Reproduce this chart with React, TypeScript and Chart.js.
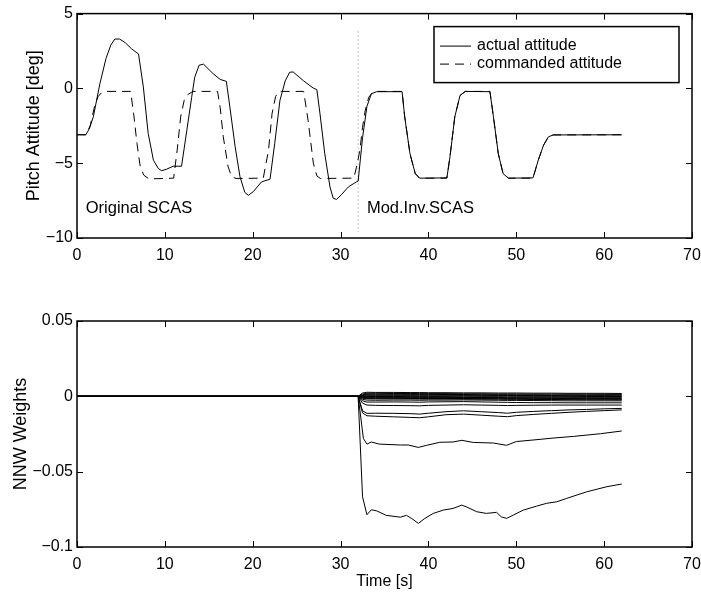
import React, { useEffect, useRef } from 'react';
import { Chart, registerables } from 'chart.js';

Chart.register(...registerables);

const FONT = "'Liberation Sans', Arial, Helvetica, sans-serif";

// ---------- axis settings ----------
const timeMin = 0;
const timeMax = 70;
const timeStep = 10;
const pitchMin = -10;
const pitchMax = 5;
const pitchStep = 5;
const weightMin = -0.1;
const weightMax = 0.05;
const weightStep = 0.05;

// ---------- top plot: pitch attitude ----------
const actualTime = [0, 1.0, 1.4, 1.86, 2.6, 3.3, 3.85, 4.3, 4.85, 5.5, 6.2, 7.0, 7.55, 8.1, 8.7, 9.26, 9.64, 10.2, 10.96, 11.9, 12.5, 13.05, 13.4, 13.9, 14.4, 15.5, 16.3, 17.0, 17.4, 18.0, 18.55, 19.1, 19.5, 20.07, 21.0, 21.97, 22.5, 23.1, 23.7, 24.2, 24.6, 25.8, 26.9, 27.3, 27.66, 28.2, 28.8, 29.17, 29.55, 30.1, 30.9, 31.8, 32.0, 32.5, 33.0, 33.5, 34.1, 37.0, 37.3, 37.9, 38.5, 39.0, 42.1, 42.45, 43.0, 43.6, 44.2, 47.0, 47.4, 47.95, 48.5, 49.1, 51.9, 52.5, 53.1, 53.65, 54.2, 62.0];
const actualPitch = [-3.1, -3.1, -2.7, -1.9, 0.3, 2.0, 2.9, 3.3, 3.3, 3.05, 2.65, 2.3, 0.1, -3.0, -4.8, -5.36, -5.5, -5.4, -5.2, -5.2, -2.8, -0.6, 0.75, 1.55, 1.62, 0.98, 0.6, 0.47, -1.24, -3.9, -5.9, -6.95, -7.15, -6.9, -6.25, -6.07, -3.7, -0.8, 0.5, 1.08, 1.1, 0.5, 0.02, -0.08, -1.7, -4.36, -6.6, -7.35, -7.42, -7.1, -6.58, -6.25, -6.2, -3.3, -1.2, -0.36, -0.22, -0.22, -1.9, -4.36, -5.7, -6.0, -5.98, -4.58, -1.9, -0.47, -0.2, -0.22, -1.9, -4.36, -5.7, -6.0, -5.98, -4.8, -3.8, -3.24, -3.11, -3.1];

const commandTime = [0, 1.0, 1.5, 2.0, 2.4, 2.8, 3.3, 6.1, 6.45, 6.83, 7.2, 7.6, 8.2, 11.0, 11.4, 11.8, 12.2, 12.5, 13.2, 16.0, 16.3, 16.65, 17.2, 17.6, 18.1, 21.2, 21.8, 22.2, 22.6, 22.9, 23.3, 25.8, 26.3, 26.9, 27.3, 27.7, 31.5, 31.8, 32.2, 32.5, 32.8, 33.2, 33.6, 34.1, 37.0, 37.3, 37.9, 38.5, 39.0, 42.1, 42.45, 43.0, 43.6, 44.2, 47.0, 47.4, 47.95, 48.5, 49.1, 51.9, 52.5, 53.1, 53.65, 54.2, 62.0];
const commandPitch = [-3.1, -3.1, -2.5, -1.2, -0.55, -0.28, -0.2, -0.2, -1.7, -3.7, -5.24, -5.8, -6.05, -6.0, -4.13, -1.9, -0.8, -0.45, -0.2, -0.2, -1.3, -3.24, -5.24, -5.9, -6.02, -6.0, -4.13, -1.69, -0.55, -0.24, -0.2, -0.2, -2.13, -5.0, -5.85, -6.02, -6.0, -5.3, -4.13, -2.6, -1.5, -0.6, -0.3, -0.2, -0.2, -1.9, -4.36, -5.7, -6.0, -6.0, -4.58, -1.9, -0.47, -0.2, -0.2, -1.9, -4.36, -5.7, -6.0, -6.0, -4.8, -3.8, -3.24, -3.11, -3.1];

const switchTime = [32, 32];
const switchPitch = [3.8, -9.6];

const legendLabels = ['actual attitude', 'commanded attitude'];
const annotationTexts = ['Original SCAS', 'Mod.Inv.SCAS'];
const annotationTime = [1.0, 33.0];
const annotationPitch = [-8, -8];

// ---------- bottom plot: NNW weights ----------
const weightTimeA = [0, 32, 32.5, 33, 33.5, 34.1, 35.2, 36.8, 37.5, 38.1, 38.85, 39.6, 40.55, 41.7, 42.8, 43.8, 44.3, 45.5, 46.6, 47.75, 48.3, 48.9, 49.66, 50.8, 52.3, 53.45, 54.6, 55.7, 58.0, 60.3, 62];
const weightA = [0, 0, -0.0667, -0.0786, -0.0753, -0.076, -0.079, -0.0802, -0.079, -0.0811, -0.0843, -0.081, -0.0777, -0.0755, -0.0744, -0.0722, -0.0733, -0.0766, -0.0777, -0.077, -0.08, -0.081, -0.0788, -0.0755, -0.0729, -0.071, -0.07, -0.0678, -0.0634, -0.06, -0.0582];

const weightTimeB = [0, 32, 32.6, 33, 33.5, 34.4, 36.8, 37.7, 38.85, 39.8, 41.3, 42.8, 43.8, 45.1, 47.4, 48.9, 50.0, 51.9, 54.2, 56.5, 59.6, 62];
const weightB = [0, 0, -0.028, -0.0317, -0.0303, -0.0317, -0.0323, -0.0323, -0.0339, -0.0325, -0.0305, -0.0303, -0.0292, -0.0306, -0.031, -0.0325, -0.03, -0.029, -0.0277, -0.0266, -0.0248, -0.023];

const weightTime = [0, 32, 32.5, 33, 34, 36, 38, 39, 40, 42, 44, 46, 48, 49, 50, 52, 54, 56, 58, 60, 62];
const weightC = [0, 0, -0.0096, -0.0113, -0.0112, -0.0113, -0.0115, -0.0118, -0.0112, -0.0102, -0.0096, -0.0102, -0.0108, -0.0112, -0.0106, -0.0100, -0.0095, -0.0090, -0.0087, -0.0083, -0.0080];
const weightD = [0, 0, -0.011, -0.0129, -0.0132, -0.0136, -0.014, -0.0142, -0.0136, -0.0122, -0.0118, -0.0125, -0.0132, -0.0135, -0.0128, -0.012, -0.0113, -0.0106, -0.0100, -0.0095, -0.0090];
const weightE = [0, 0, -0.0045, -0.0058, -0.006, -0.0061, -0.0062, -0.0063, -0.006, -0.0058, -0.0056, -0.0058, -0.006, -0.0061, -0.006, -0.0059, -0.0058, -0.0058, -0.0058, -0.0058, -0.0058];
const weightF = [0, 0, -0.003, -0.0038, -0.0038, -0.0037, -0.0038, -0.0039, -0.0037, -0.0036, -0.0035, -0.0037, -0.0039, -0.004, -0.0041, -0.0042, -0.0042, -0.0043, -0.0043, -0.0043, -0.0043];
const weightG = [0, 0, -0.002, -0.0025, -0.0026, -0.0025, -0.0025, -0.0026, -0.0025, -0.0025, -0.0024, -0.0025, -0.0026, -0.0027, -0.0027, -0.0028, -0.0029, -0.003, -0.003, -0.003, -0.003];
const weightH = [0, 0, 0.0022, 0.0027, 0.0026, 0.0026, 0.0025, 0.0025, 0.0024, 0.0024, 0.0023, 0.0023, 0.0022, 0.0022, 0.0022, 0.0021, 0.0021, 0.002, 0.002, 0.002, 0.0019];
const weightI = [0, 0, 0.0015, 0.002, 0.002, 0.0019, 0.0019, 0.0018, 0.0018, 0.0018, 0.0017, 0.0017, 0.0016, 0.0016, 0.0016, 0.0015, 0.0015, 0.0014, 0.0014, 0.0013, 0.0013];
const weightJ = [0, 0, 0.001, 0.0014, 0.0014, 0.0014, 0.0013, 0.0013, 0.0013, 0.0012, 0.0012, 0.0011, 0.0011, 0.0011, 0.001, 0.001, 0.0009, 0.0009, 0.0008, 0.0008, 0.0008];
const weightK = [0, 0, 0.0006, 0.0009, 0.0009, 0.0009, 0.0008, 0.0008, 0.0008, 0.0008, 0.0007, 0.0007, 0.0006, 0.0006, 0.0006, 0.0005, 0.0005, 0.0004, 0.0004, 0.0004, 0.0003];
const weightL = [0, 0, 0.0003, 0.0004, 0.0004, 0.0004, 0.0004, 0.0003, 0.0003, 0.0003, 0.0003, 0.0002, 0.0002, 0.0002, 0.0001, 0.0001, 0.0, 0.0, -0.0001, -0.0001, -0.0001];
const weightM = [0, 0, -0.0001, -0.0001, -0.0001, -0.0001, -0.0002, -0.0002, -0.0002, -0.0002, -0.0003, -0.0003, -0.0003, -0.0004, -0.0004, -0.0004, -0.0005, -0.0005, -0.0005, -0.0006, -0.0006];
const weightN = [0, 0, -0.0004, -0.0006, -0.0006, -0.0006, -0.0007, -0.0007, -0.0007, -0.0007, -0.0008, -0.0008, -0.0008, -0.0009, -0.0009, -0.0009, -0.001, -0.001, -0.001, -0.0011, -0.0011];
const weightO = [0, 0, -0.0007, -0.001, -0.001, -0.001, -0.0011, -0.0011, -0.0011, -0.0011, -0.0012, -0.0012, -0.0012, -0.0013, -0.0013, -0.0013, -0.0014, -0.0014, -0.0015, -0.0015, -0.0015];
const weightP = [0, 0, -0.001, -0.0013, -0.0013, -0.0013, -0.0014, -0.0014, -0.0014, -0.0014, -0.0015, -0.0015, -0.0016, -0.0016, -0.0016, -0.0017, -0.0018, -0.0018, -0.0019, -0.0019, -0.002];
const weightQ = [0, 0, -0.0012, -0.0016, -0.0017, -0.0017, -0.0017, -0.0018, -0.0018, -0.0018, -0.0018, -0.0019, -0.0019, -0.002, -0.002, -0.0021, -0.0021, -0.0022, -0.0023, -0.0023, -0.0024];

const smallWeights = [weightC, weightD, weightE, weightF, weightG, weightH, weightI, weightJ, weightK, weightL, weightM, weightN, weightO, weightP, weightQ];

// ---------- helpers ----------
const toPoints = (xs: number[], ys: number[]) => xs.map((x, i) => ({ x, y: ys[i] }));

const fmt = (v: number) => {
  const r = Math.round(v * 1000) / 1000;
  const s = r === 0 ? '0' : String(r);
  return s.replace('-', '\u2212');
};

const framePlugin = {
  id: 'matlabFrame',
  afterDatasetsDraw(chart: any) {
    const { ctx, chartArea: a, scales } = chart;
    const L = 6;
    ctx.save();
    ctx.strokeStyle = '#000';
    ctx.lineWidth = 1;
    ctx.beginPath();
    scales.x.ticks.forEach((t: any) => {
      const p = Math.round(scales.x.getPixelForValue(t.value)) + 0.5;
      ctx.moveTo(p, a.bottom);
      ctx.lineTo(p, a.bottom - L);
      ctx.moveTo(p, a.top);
      ctx.lineTo(p, a.top + L);
    });
    scales.y.ticks.forEach((t: any) => {
      const p = Math.round(scales.y.getPixelForValue(t.value)) + 0.5;
      ctx.moveTo(a.left, p);
      ctx.lineTo(a.left + L, p);
      ctx.moveTo(a.right, p);
      ctx.lineTo(a.right - L, p);
    });
    ctx.stroke();
    ctx.lineWidth = 1.5;
    ctx.strokeRect(a.left, a.top, a.right - a.left, a.bottom - a.top);
    ctx.restore();
  },
};

const legendPlugin = {
  id: 'boxLegend',
  afterDraw(chart: any) {
    const { ctx, chartArea: a } = chart;
    const w = 245;
    const h = 56;
    const right = a.right - 13;
    const top = a.top + 13;
    const left = right - w;
    ctx.save();
    ctx.fillStyle = '#fff';
    ctx.fillRect(left, top, w, h);
    ctx.strokeStyle = '#000';
    ctx.lineWidth = 1.5;
    ctx.strokeRect(left, top, w, h);
    ctx.font = `16px ${FONT}`;
    ctx.textBaseline = 'middle';
    ctx.textAlign = 'left';
    ctx.fillStyle = '#000';
    legendLabels.forEach((label, i) => {
      const ds = chart.data.datasets[i];
      const y = top + 19 + i * 18;
      ctx.beginPath();
      ctx.lineWidth = 1;
      ctx.setLineDash(ds.borderDash || []);
      ctx.moveTo(left + 6, y + 0.5);
      ctx.lineTo(left + 37, y + 0.5);
      ctx.stroke();
      ctx.setLineDash([]);
      ctx.fillText(label, left + 43, y);
    });
    ctx.restore();
  },
};

const annotationPlugin = {
  id: 'textNotes',
  afterDatasetsDraw(chart: any) {
    const { ctx, scales } = chart;
    ctx.save();
    ctx.font = `16.5px ${FONT}`;
    ctx.fillStyle = '#000';
    ctx.textAlign = 'left';
    ctx.textBaseline = 'middle';
    annotationTexts.forEach((txt, i) => {
      ctx.fillText(txt, scales.x.getPixelForValue(annotationTime[i]), scales.y.getPixelForValue(annotationPitch[i]));
    });
    ctx.restore();
  },
};

const xScale = (height: number, title?: string) => ({
  type: 'linear',
  min: timeMin,
  max: timeMax,
  ticks: { stepSize: timeStep, padding: 8, color: '#000', font: { size: 16, family: FONT }, maxRotation: 0, autoSkip: false },
  grid: { display: false, drawTicks: false },
  border: { display: false },
  title: title
    ? { display: true, text: title, color: '#000', font: { size: 16, family: FONT }, padding: { top: 0, bottom: 1 } }
    : { display: false },
  afterFit: (s: any) => {
    s.height = height;
    s.paddingRight = 9;
    s.paddingLeft = 0;
  },
});

const yScale = (min: number, max: number, step: number, title: string, titlePad: number) => ({
  type: 'linear',
  min,
  max,
  ticks: { stepSize: step, padding: 4, color: '#000', font: { size: 16, family: FONT }, callback: (v: any) => fmt(Number(v)) },
  grid: { display: false, drawTicks: false },
  border: { display: false },
  title: { display: true, text: title, color: '#000', font: { size: 18, family: FONT }, padding: { top: titlePad, bottom: 0 } },
  afterFit: (s: any) => { s.width = 77; },
});

const baseOptions = {
  responsive: false,
  animation: false,
  events: [],
  elements: { point: { radius: 0 }, line: { tension: 0 } },
  plugins: { legend: { display: false }, tooltip: { enabled: false }, title: { display: false } },
};

export default function App() {
  const topRef = useRef<HTMLCanvasElement | null>(null);
  const botRef = useRef<HTMLCanvasElement | null>(null);

  useEffect(() => {
    Chart.defaults.font.family = FONT;
    Chart.defaults.font.size = 16;
    Chart.defaults.color = '#000';

    const top = new Chart(topRef.current as HTMLCanvasElement, {
      type: 'scatter',
      data: {
        datasets: [
          { label: legendLabels[0], data: toPoints(actualTime, actualPitch), showLine: true, borderColor: '#000', borderWidth: 1, pointRadius: 0 },
          { label: legendLabels[1], data: toPoints(commandTime, commandPitch), showLine: true, borderColor: '#000', borderWidth: 1, borderDash: [9, 6], pointRadius: 0 },
          { label: 'switch', data: toPoints(switchTime, switchPitch), showLine: true, borderColor: '#888', borderWidth: 1, borderDash: [1, 3], pointRadius: 0 },
        ],
      },
      options: {
        ...baseOptions,
        layout: { padding: { top: 13, right: 0, left: 0, bottom: 0 } },
        scales: {
          x: xScale(58),
          y: yScale(pitchMin, pitchMax, pitchStep, 'Pitch Attitude [deg]', 23.2),
        },
      } as any,
      plugins: [annotationPlugin, framePlugin, legendPlugin],
    });

    const weightSets = [
      { data: toPoints(weightTimeA, weightA) },
      { data: toPoints(weightTimeB, weightB) },
      ...smallWeights.map((w) => ({ data: toPoints(weightTime, w) })),
    ].map((d, i) => ({ ...d, label: `w${i + 1}`, showLine: true, borderColor: '#000', borderWidth: 1, pointRadius: 0 }));

    const bot = new Chart(botRef.current as HTMLCanvasElement, {
      type: 'scatter',
      data: { datasets: weightSets },
      options: {
        ...baseOptions,
        layout: { padding: { top: 25, right: 0, left: 0, bottom: 0 } },
        scales: {
          x: xScale(45, 'Time [s]'),
          y: yScale(weightMin, weightMax, weightStep, 'NNW Weights', 9.8),
        },
      } as any,
      plugins: [framePlugin],
    });

    return () => {
      top.destroy();
      bot.destroy();
    };
  }, []);

  return (
    <div style={{ position: 'absolute', left: 0, top: 0, width: 701, height: 592, background: '#fff' }}>
      <canvas ref={topRef} width={701} height={296} style={{ display: 'block', width: 701, height: 296 }} />
      <canvas ref={botRef} width={701} height={296} style={{ display: 'block', width: 701, height: 296 }} />
    </div>
  );
}
